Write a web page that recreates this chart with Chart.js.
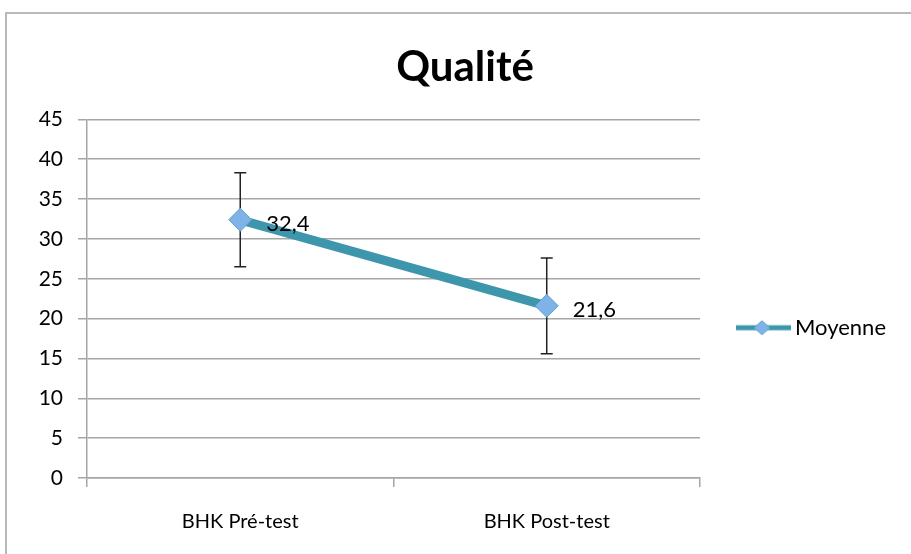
<!DOCTYPE html>
<html>
<head>
<meta charset="utf-8">
<script src="https://cdn.jsdelivr.net/npm/chart.js@4.4.0/dist/chart.umd.min.js"></script>
<style>
  html, body { margin: 0; padding: 0; background: #fff; }
  #wrap { width: 911px; height: 554px; }
</style>
</head>
<body>
<div id="wrap"><canvas id="myChart" width="911" height="554"></canvas></div>
<script>
// Qualité : moyenne BHK avant / après, avec barres d'erreur

const categories = ["BHK Pré-test", "BHK Post-test"];
const moyenne = [32.4, 21.6];
const ecart = [5.9, 6.0];
const yMin = 0;
const yMax = 45;
const yStep = 5;

const lineColor = "#3e96ad";
const markerFill = "#80b2ea";
const markerEdge = "#5aa3c4";
const fontFamily = "Lato, 'Open Sans', sans-serif";

// legend marker: line with a diamond (transparent margin on the left)
const legendIcon = document.createElement("canvas");
legendIcon.width = 74;
legendIcon.height = 18;
(function () {
  const c = legendIcon.getContext("2d");
  c.strokeStyle = lineColor;
  c.lineWidth = 5;
  c.beginPath();
  c.moveTo(19, 9);
  c.lineTo(74, 9);
  c.stroke();
  c.fillStyle = markerFill;
  c.strokeStyle = markerEdge;
  c.lineWidth = 1;
  c.beginPath();
  c.moveTo(45, 2);
  c.lineTo(53, 9);
  c.lineTo(45, 16);
  c.lineTo(37, 9);
  c.closePath();
  c.fill();
  c.stroke();
})();

const frame = {
  id: "frame",
  beforeDraw(chart) {
    const c = chart.ctx;
    c.save();
    c.strokeStyle = "#b9b9b9";
    c.lineWidth = 2;
    c.beginPath();
    c.moveTo(6, chart.height);
    c.lineTo(6, 13);
    c.lineTo(chart.width, 13);
    c.stroke();
    c.restore();
  },
};

const errorBars = {
  id: "errorBars",
  beforeDatasetsDraw(chart) {
    const c = chart.ctx;
    const meta = chart.getDatasetMeta(0);
    const y = chart.scales.y;
    c.save();
    c.strokeStyle = "#222";
    c.lineWidth = 1.5;
    meta.data.forEach((pt, i) => {
      const top = y.getPixelForValue(moyenne[i] + ecart[i]);
      const bot = y.getPixelForValue(moyenne[i] - ecart[i]);
      c.beginPath();
      c.moveTo(pt.x, top);
      c.lineTo(pt.x, bot);
      c.moveTo(pt.x - 6, top);
      c.lineTo(pt.x + 6, top);
      c.moveTo(pt.x - 6, bot);
      c.lineTo(pt.x + 6, bot);
      c.stroke();
    });
    c.restore();
  },
};

const valueLabels = {
  id: "valueLabels",
  afterDatasetsDraw(chart) {
    const c = chart.ctx;
    const meta = chart.getDatasetMeta(0);
    c.save();
    c.font = "22px " + fontFamily;
    c.fillStyle = "#000";
    c.textAlign = "left";
    c.textBaseline = "middle";
    meta.data.forEach((pt, i) => {
      c.fillText(String(moyenne[i]).replace(".", ","), pt.x + 26, pt.y + 4);
    });
    c.restore();
  },
};

const data = {
  labels: categories,
  datasets: [
    {
      label: "Moyenne",
      data: moyenne,
      borderColor: lineColor,
      borderWidth: 9,
      pointStyle: "rectRot",
      pointRadius: 11.5,
      pointBackgroundColor: markerFill,
      pointBorderColor: markerEdge,
      pointBorderWidth: 1,
      tension: 0,
    },
  ],
};

const options = {
  responsive: false,
  animation: false,
  layout: { padding: { top: 42, left: 34, right: 15, bottom: 0 } },
  plugins: {
    title: {
      display: true,
      text: "Qualité",
      color: "#000",
      font: { family: fontFamily, size: 42, weight: "bold" },
      padding: { top: 0, bottom: 27 },
    },
    legend: {
      position: "right",
      title: {
        display: true,
        text: " ",
        font: { size: 12 },
        padding: { top: 0, bottom: 45 },
      },
      labels: {
        usePointStyle: true,
        pointStyle: legendIcon,
        pointStyleWidth: 60,
        padding: 24,
        color: "#000",
        font: { family: fontFamily, size: 22 },
      },
    },
    tooltip: { enabled: false },
  },
  scales: {
    x: {
      offset: true,
      afterFit(scale) { scale.height = 76; },
      border: { color: "#a6a6a6", width: 1.5 },
      grid: { drawOnChartArea: false, drawTicks: true, tickLength: 9, color: "#a6a6a6", lineWidth: 1.5, offset: true },
      ticks: { color: "#000", padding: 23, font: { family: fontFamily, size: 20 } },
    },
    y: {
      min: yMin,
      max: yMax,
      afterFit(scale) { scale.width = 53; },
      border: { color: "#a6a6a6", width: 1.5 },
      grid: { color: "#a6a6a6", lineWidth: 1.5, tickLength: 9 },
      ticks: { stepSize: yStep, color: "#000", padding: 15, font: { family: fontFamily, size: 21 } },
    },
  },
};

const chart = new Chart(document.querySelector("#myChart"), {
  type: "line",
  data: data,
  options: options,
  plugins: [frame, errorBars, valueLabels],
});
</script>
</body>
</html>
